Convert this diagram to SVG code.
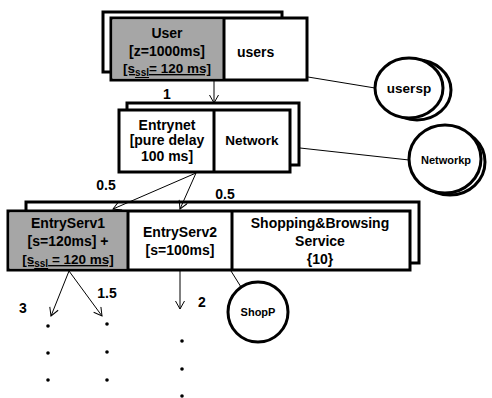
<svg xmlns="http://www.w3.org/2000/svg" width="492" height="398" viewBox="0 0 492 398">
  <style>
    text { font-family: "Liberation Sans", Arial, sans-serif; font-weight: bold; fill: #000; }
    .box { fill: #fff; stroke: #000; stroke-width: 3; }
    .grey { fill: #a6a6a6; stroke: none; }
    .div { stroke: #000; stroke-width: 3; fill: none; }
    .pool { fill: #fff; stroke: #000; stroke-width: 3; }
    .conn { stroke: #000; stroke-width: 1; fill: none; }
    .mid { text-anchor: middle; }
    .t14 { font-size: 14px; }
    .t13 { font-size: 13.5px; }
    .t11 { font-size: 11px; }
    .ul { text-decoration: underline; }
  </style>
  <defs>
    <marker id="open" markerUnits="userSpaceOnUse" markerWidth="12" markerHeight="12" refX="9" refY="5" orient="auto">
      <path d="M1,0.5 L9,5 L1,9.5" fill="none" stroke="#000" stroke-width="1"/>
    </marker>
  </defs>

  <!-- user node -->
  <g id="user">
    <rect class="box" x="103" y="12" width="179" height="60"/>
    <rect class="box" x="111" y="18" width="196" height="62"/>
    <rect class="grey" x="112.5" y="19.5" width="111" height="59"/>
    <line class="div" x1="224" y1="18" x2="224" y2="80"/>
    <text class="t14 mid" x="167" y="38">User</text>
    <text class="t14 mid" x="167" y="56">[z=1000ms]</text>
    <text class="t13 mid ul" x="167" y="73">[s<tspan font-size="10" dy="3">ssl</tspan><tspan dy="-3">= 120 ms]</tspan></text>
    <text class="t14" x="237" y="57">users</text>
  </g>

  <!-- entry network node -->
  <g id="entrynet">
    <rect class="box" x="127" y="103" width="172" height="62"/>
    <rect class="box" x="119" y="110" width="171" height="62"/>
    <line class="div" x1="214" y1="110" x2="214" y2="172"/>
    <text class="t14 mid" x="167" y="130">Entrynet</text>
    <text class="t14 mid" x="167" y="145">[pure delay</text>
    <text class="t14 mid" x="167" y="161">100 ms]</text>
    <text class="t13 mid" x="252" y="145">Network</text>
  </g>

  <!-- entry servers and shopping service -->
  <g id="services">
    <rect class="box" x="26" y="202" width="393" height="61"/>
    <rect class="box" x="8" y="211" width="402" height="59"/>
    <rect class="grey" x="9.5" y="212.5" width="118" height="56"/>
    <line class="div" x1="128" y1="211" x2="128" y2="270"/>
    <line class="div" x1="232" y1="211" x2="232" y2="270"/>
    <text class="t14 mid" x="68" y="228">EntryServ1</text>
    <text class="t14 mid" x="68" y="246">[s=120ms] +</text>
    <text class="t13 mid ul" x="68" y="264">[s<tspan font-size="10" dy="3">ssl</tspan><tspan dy="-3"> = 120 ms]</tspan></text>
    <text class="t14 mid" x="180" y="237">EntryServ2</text>
    <text class="t14 mid" x="180" y="255">[s=100ms]</text>
    <text class="t14 mid" x="320" y="228">Shopping&amp;Browsing</text>
    <text class="t14 mid" x="320" y="246">Service</text>
    <text class="t14 mid" x="320" y="264">{10}</text>
  </g>

  <!-- resource pools -->
  <g id="usersp">
    <ellipse class="pool" cx="417" cy="90" rx="34" ry="30"/>
    <ellipse class="pool" cx="409" cy="88" rx="34" ry="30"/>
    <text class="t13 mid" x="409" y="93">usersp</text>
  </g>
  <g id="networkp">
    <ellipse class="pool" cx="450" cy="162" rx="35" ry="33"/>
    <ellipse class="pool" cx="445" cy="159" rx="36" ry="34"/>
    <text class="t11 mid" x="446" y="164">Networkp</text>
  </g>
  <g id="shopp">
    <ellipse class="pool" cx="258" cy="312" rx="30" ry="30"/>
    <text class="t11 mid" x="258" y="316">ShopP</text>
  </g>

  <!-- connectors, drawn above the stacked boxes so arrowheads stay visible -->
  <g id="connectors">
    <line class="conn" x1="214" y1="81" x2="214" y2="103" marker-end="url(#open)"/>
    <line class="conn" x1="196" y1="173" x2="113" y2="209" marker-end="url(#open)"/>
    <line class="conn" x1="196" y1="173" x2="180" y2="209" marker-end="url(#open)"/>
    <line class="conn" x1="69" y1="271" x2="51" y2="316" marker-end="url(#open)"/>
    <line class="conn" x1="69" y1="271" x2="102" y2="316" marker-end="url(#open)"/>
    <line class="conn" x1="180" y1="271" x2="180" y2="309" marker-end="url(#open)"/>
    <line class="conn" x1="308" y1="77" x2="375" y2="88"/>
    <line class="conn" x1="300" y1="148" x2="409" y2="160"/>
    <line class="conn" x1="231" y1="271" x2="241" y2="287"/>
    <text class="t14 mid" x="167" y="99">1</text>
    <text class="t14 mid" x="106" y="190">0.5</text>
    <text class="t14 mid" x="225" y="199">0.5</text>
    <text class="t14 mid" x="23" y="313">3</text>
    <text class="t14 mid" x="107" y="298">1.5</text>
    <text class="t14 mid" x="202" y="307">2</text>
  </g>

  <!-- continuation dots -->
  <g id="dots" fill="#000">
    <circle cx="48" cy="326" r="1.8"/>
    <circle cx="48" cy="353" r="1.8"/>
    <circle cx="48" cy="380" r="1.8"/>
    <circle cx="107" cy="324" r="1.8"/>
    <circle cx="107" cy="352" r="1.8"/>
    <circle cx="107" cy="380" r="1.8"/>
    <circle cx="182" cy="341" r="1.8"/>
    <circle cx="182" cy="369" r="1.8"/>
    <circle cx="182" cy="396" r="1.8"/>
  </g>
</svg>
